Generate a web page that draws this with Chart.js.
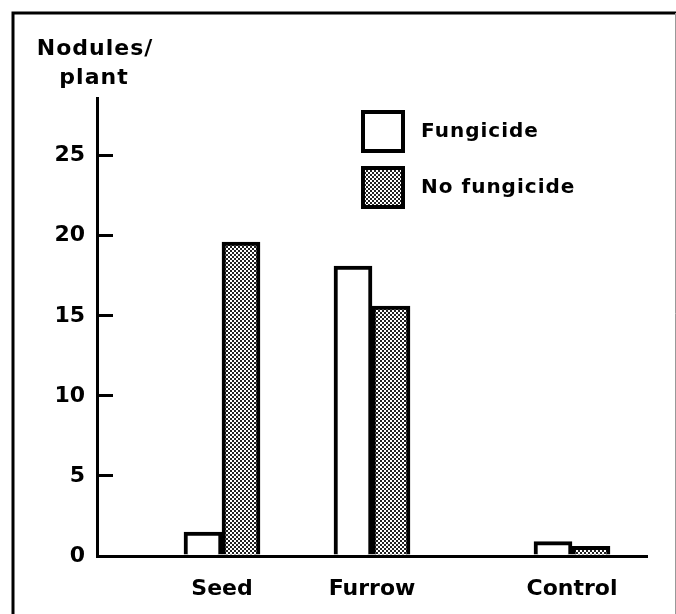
<!DOCTYPE html>
<html lang="en">
<head>
<meta charset="UTF-8">
<title>Nodules per plant</title>
<script src="https://cdn.jsdelivr.net/npm/chart.js"></script>
<style>
  html, body { margin: 0; padding: 0; background: #fff; }
  canvas { display: block; }
</style>
</head>
<body>
<canvas id="chart" width="676" height="614"></canvas>
<script>
  // data
  const categories = ['Seed', 'Furrow', 'Control'];
  const fungicide = [1.5, 18.1, 0.9];
  const noFungicide = [19.6, 15.6, 0.6];
  const seriesNames = ['Fungicide', 'No fungicide'];
  const yTicks = [0, 5, 10, 15, 20, 25];

  // groups are unevenly spaced in the original, so put them on an 11-slot axis
  const slotCount = 11;
  const groupSlots = [2, 5, 9];

  const labels = new Array(slotCount).fill('');
  const fData = new Array(slotCount).fill(null);
  const nData = new Array(slotCount).fill(null);
  groupSlots.forEach((s, i) => {
    labels[s] = categories[i];
    fData[s] = fungicide[i];
    nData[s] = noFungicide[i];
  });

  const canvas = document.getElementById('chart');
  const ctx = canvas.getContext('2d');

  // stippled fill for the "no fungicide" bars
  function stipple() {
    const c = document.createElement('canvas');
    c.width = 4; c.height = 4;
    const g = c.getContext('2d');
    g.fillStyle = '#fff';
    g.fillRect(0, 0, 4, 4);
    g.fillStyle = '#222';
    g.fillRect(0, 0, 2, 2);
    g.fillRect(2, 2, 2, 2);
    return ctx.createPattern(c, 'repeat');
  }
  const dots = stipple();

  const font = '"DejaVu Sans", sans-serif';

  // frame, y title and legend drawn by hand
  const decor = {
    id: 'decor',
    afterDraw(chart) {
      const c = chart.ctx;
      c.save();
      c.strokeStyle = '#000';
      c.lineWidth = 3;
      c.beginPath();
      c.moveTo(13, 614); c.lineTo(13, 13); c.lineTo(676, 13);
      c.stroke();
      c.strokeStyle = '#999';
      c.lineWidth = 1;
      c.beginPath();
      c.moveTo(675.5, 13); c.lineTo(675.5, 614);
      c.stroke();

      c.fillStyle = '#000';
      c.font = 'bold 22px ' + font;
      c.letterSpacing = '1px';
      c.textAlign = 'center';
      c.textBaseline = 'alphabetic';
      c.fillText('Nodules/', 95, 55);
      c.fillText('plant', 94, 84);

      c.font = 'bold 20px ' + font;
      chart.data.datasets.forEach((ds, i) => {
        const y = 112 + i * 56;
        c.fillStyle = ds.backgroundColor;
        c.fillRect(363, y, 40, 39);
        c.strokeStyle = '#000';
        c.lineWidth = 4;
        c.strokeRect(363, y, 40, 39);
        c.fillStyle = '#000';
        c.textAlign = 'left';
        c.textBaseline = 'middle';
        c.fillText(ds.label, 421, y + 20);
      });
      c.restore();
    }
  };

  new Chart(ctx, {
    type: 'bar',
    data: {
      labels: labels,
      datasets: [
        { label: seriesNames[0], data: fData, backgroundColor: '#fff' },
        { label: seriesNames[1], data: nData, backgroundColor: dots }
      ]
    },
    options: {
      responsive: false,
      animation: false,
      layout: { padding: { top: 98, right: 29, left: 0, bottom: 0 } },
      datasets: {
        bar: { barThickness: 38, borderColor: '#000', borderWidth: 4, borderSkipped: 'bottom' }
      },
      plugins: {
        legend: { display: false },
        tooltip: { enabled: false }
      },
      scales: {
        x: {
          afterFit(scale) { scale.height = 58; },
          border: { color: '#000', width: 3 },
          grid: { drawOnChartArea: false, drawTicks: false },
          ticks: {
            autoSkip: false, maxRotation: 0, padding: 20, color: '#000',
            font: { family: font, size: 22, weight: 'bold' }
          }
        },
        y: {
          min: 0,
          max: 28.6,
          afterFit(scale) { scale.width = 97; },
          afterBuildTicks(scale) { scale.ticks = yTicks.map(v => ({ value: v })); },
          border: { color: '#000', width: 3 },
          grid: { drawOnChartArea: false, color: '#000', lineWidth: 3, tickLength: -16 },
          ticks: {
            padding: 28, color: '#000',
            font: { family: font, size: 22, weight: 'bold' }
          }
        }
      }
    },
    plugins: [decor]
  });
</script>
</body>
</html>
